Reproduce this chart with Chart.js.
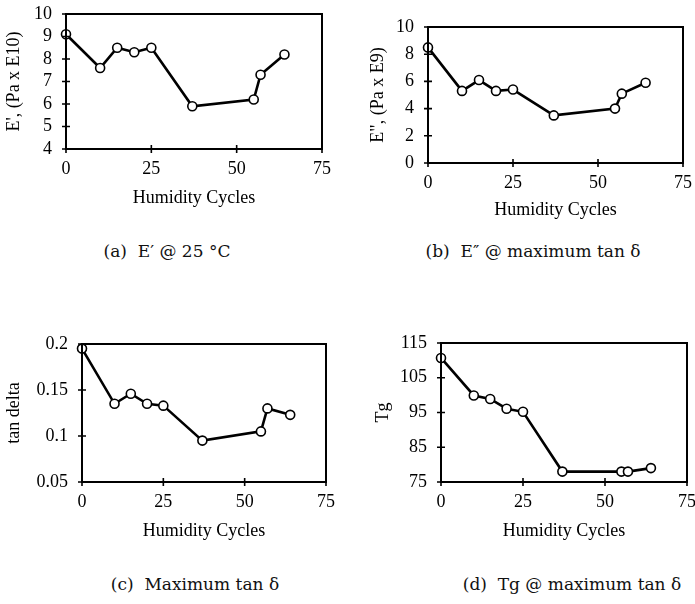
<!DOCTYPE html>
<html>
<head>
<meta charset="utf-8">
<script src="https://cdn.jsdelivr.net/npm/chart.js@4.4.1/dist/chart.umd.min.js"></script>
<style>
  body { margin: 0; background: #fff; }
  #wrap { position: relative; width: 695px; height: 604px; overflow: hidden; }
  canvas { position: absolute; }
  .caption {
    position: absolute;
    transform: translate(-50%, -50%);
    font-family: "DejaVu Serif", serif;
    font-size: 17px;
    white-space: pre;
    color: #111;
  }
</style>
</head>
<body>
<div id="wrap">
  <canvas id="chart-a" width="340" height="240" style="left:0;top:0"></canvas>
  <canvas id="chart-b" width="355" height="240" style="left:340px;top:0"></canvas>
  <canvas id="chart-c" width="340" height="300" style="left:0;top:270px"></canvas>
  <canvas id="chart-d" width="355" height="300" style="left:340px;top:270px"></canvas>
  <div class="caption" style="left:167px;top:251px">(a)  E′ @ 25 °C</div>
  <div class="caption" style="left:533px;top:251px">(b)  E″ @ maximum tan δ</div>
  <div class="caption" style="left:195px;top:584px">(c)  Maximum tan δ</div>
  <div class="caption" style="left:572px;top:584px">(d)  Tg @ maximum tan δ</div>
</div>
<script>
// Données
const cycles = [0, 10, 15, 20, 25, 37, 55, 57, 64];
const storageModulus = [9.1, 7.6, 8.5, 8.3, 8.5, 5.9, 6.2, 7.3, 8.2];
const lossModulus = [8.5, 5.3, 6.1, 5.3, 5.4, 3.5, 4.0, 5.1, 5.9];
const tanDelta = [0.195, 0.135, 0.146, 0.135, 0.133, 0.095, 0.105, 0.13, 0.123];
const glassTemp = [110.7, 99.9, 98.9, 96.1, 95.2, 78, 78, 78, 79];

const xTicks = [0, 25, 50, 75];
const yTicksA = [4, 5, 6, 7, 8, 9, 10];
const yTicksB = [0, 2, 4, 6, 8, 10];
const yTicksC = [0.05, 0.1, 0.15, 0.2];
const yTicksD = [75, 85, 95, 105, 115];

const FONT = 'Liberation Serif';
const TICK = 4;

// cadre + petites graduations qui traversent les axes
const framePlugin = {
    id: 'frame',
    afterDraw(chart) {
        const { ctx, chartArea } = chart;
        const { left, top, right, bottom } = chartArea;
        ctx.save();
        ctx.strokeStyle = '#000';
        ctx.lineWidth = 2;
        ctx.strokeRect(left, top, right - left, bottom - top);
        ctx.lineWidth = 1.6;
        ctx.beginPath();
        chart.scales.x.ticks.forEach(t => {
            const x = chart.scales.x.getPixelForValue(t.value);
            ctx.moveTo(x, bottom - TICK);
            ctx.lineTo(x, bottom + TICK);
        });
        chart.scales.y.ticks.forEach(t => {
            const y = chart.scales.y.getPixelForValue(t.value);
            ctx.moveTo(left - TICK, y);
            ctx.lineTo(left + TICK, y);
        });
        ctx.stroke();
        ctx.restore();
    }
};

function makeChart(id, values, yTicks, yTitle, box) {
    const ctx = document.getElementById(id);
    return new Chart(ctx, {
        type: 'line',
        data: {
            datasets: [{
                data: cycles.map((c, i) => ({ x: c, y: values[i] })),
                borderColor: '#000',
                borderWidth: 2.6,
                pointRadius: 4.5,
                pointBorderWidth: 1.6,
                pointBackgroundColor: '#fff',
                pointBorderColor: '#000',
                tension: 0,
                clip: false
            }]
        },
        options: {
            responsive: false,
            animation: false,
            events: [],
            layout: { padding: box.padding },
            plugins: {
                legend: { display: false },
                tooltip: { enabled: false }
            },
            scales: {
                x: {
                    type: 'linear',
                    min: xTicks[0],
                    max: xTicks[xTicks.length - 1],
                    afterBuildTicks: s => { s.ticks = xTicks.map(v => ({ value: v })); },
                    afterFit: s => {
                        s.height = box.xHeight;
                        s.paddingLeft = s.paddingRight = 0;
                    },
                    grid: { display: false },
                    border: { display: false },
                    ticks: {
                        color: '#000',
                        padding: 1,
                        autoSkip: false,
                        maxRotation: 0,
                        font: { family: FONT, size: 18 }
                    },
                    title: {
                        display: true,
                        text: 'Humidity Cycles',
                        color: '#000',
                        padding: 4,
                        font: { family: FONT, size: 18 }
                    }
                },
                y: {
                    min: yTicks[0],
                    max: yTicks[yTicks.length - 1],
                    afterBuildTicks: s => { s.ticks = yTicks.map(v => ({ value: v })); },
                    afterFit: s => {
                        s.width = box.yWidth;
                        s.paddingTop = s.paddingBottom = 0;
                    },
                    grid: { display: false },
                    border: { display: false },
                    ticks: {
                        color: '#000',
                        padding: 6,
                        autoSkip: false,
                        font: { family: FONT, size: 18 },
                        callback: v => String(Number(v.toFixed(2)))
                    },
                    title: {
                        display: true,
                        text: yTitle,
                        color: '#000',
                        padding: 3,
                        font: { family: FONT, size: 18 }
                    }
                }
            }
        },
        plugins: [framePlugin]
    });
}

makeChart('chart-a', storageModulus, yTicksA, "E', (Pa x E10)",
    { padding: { left: 0, top: 14, right: 18, bottom: 27 }, yWidth: 66, xHeight: 64 });
makeChart('chart-b', lossModulus, yTicksB, 'E", (Pa x E9)',
    { padding: { left: 24, top: 27, right: 12, bottom: 15 }, yWidth: 64, xHeight: 62 });
makeChart('chart-c', tanDelta, yTicksC, 'tan delta',
    { padding: { left: 0, top: 74, right: 14, bottom: 24 }, yWidth: 82, xHeight: 64 });
makeChart('chart-d', glassTemp, yTicksD, 'Tg',
    { padding: { left: 29, top: 73, right: 8, bottom: 24 }, yWidth: 72, xHeight: 64 });
</script>
</body>
</html>
